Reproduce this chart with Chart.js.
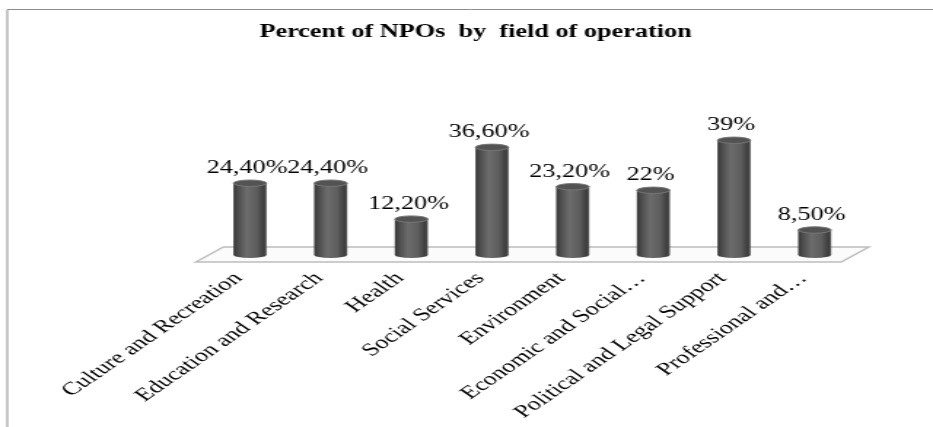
<!DOCTYPE html>
<html>
<head>
<meta charset="utf-8">
<script src="https://cdn.jsdelivr.net/npm/chart.js@4.4.1/dist/chart.umd.min.js"></script>
<style>
  html, body { margin: 0; padding: 0; background: #fff; overflow: hidden; }
</style>
</head>
<body>
<!-- drawn narrow and stretched sideways, like the original picture -->
<canvas id="chart" width="640" height="427" style="width:933px;height:427px"></canvas>
<script>
const categories = [
  'Culture and Recreation',
  'Education and Research',
  'Health',
  'Social Services',
  'Environment',
  'Economic and Social…',
  'Political and Legal Support',
  'Professional and…'
];
const percentValues = [24.4, 24.4, 12.2, 36.6, 23.2, 22, 39, 8.5];
const valueLabels = ['24,40%', '24,40%', '12,20%', '36,60%', '23,20%', '22%', '39%', '8,50%'];

const serif = '"Liberation Serif", "Times New Roman", serif';
const BAR_SHARE = 0.41;

function bodyGradient(ctx, x, width) {
  const g = ctx.createLinearGradient(x - width / 2, 0, x + width / 2, 0);
  g.addColorStop(0, '#353535');
  g.addColorStop(0.12, '#4a4a4a');
  g.addColorStop(0.4, '#6c6c6c');
  g.addColorStop(0.7, '#5e5e5e');
  g.addColorStop(0.92, '#3d3d3d');
  g.addColorStop(1, '#555555');
  return g;
}

const cylinders = {
  id: 'cylinders',
  beforeDraw(chart) {
    const ctx = chart.ctx;
    ctx.save();
    ctx.strokeStyle = '#8c8c8c';
    ctx.lineWidth = 1;
    ctx.beginPath();
    ctx.moveTo(5, chart.height);
    ctx.lineTo(5, 9.5);
    ctx.lineTo(chart.width, 9.5);
    ctx.stroke();
    ctx.restore();
  },
  beforeDatasetsDraw(chart) {
    const ctx = chart.ctx;
    const { left, right } = chart.chartArea;
    const y0 = chart.scales.y.getPixelForValue(0);
    ctx.save();
    ctx.beginPath();
    ctx.moveTo(left - 9.5, y0 + 7);
    ctx.lineTo(left + 9.5, y0 - 8);
    ctx.lineTo(right + 9.5, y0 - 8);
    ctx.lineTo(right - 9.5, y0 + 7);
    ctx.closePath();
    ctx.fillStyle = '#fbfbfb';
    ctx.fill();
    ctx.strokeStyle = '#bdbdbd';
    ctx.lineWidth = 1.5;
    ctx.stroke();
    ctx.restore();
  },
  afterDatasetsDraw(chart) {
    const ctx = chart.ctx;
    const meta = chart.getDatasetMeta(0);
    ctx.save();
    meta.data.forEach((bar, i) => {
      const { x, y, base, width } = bar.getProps(['x', 'y', 'base', 'width'], true);
      const rx = width / 2;
      ctx.fillStyle = bodyGradient(ctx, x, width);
      ctx.beginPath();
      ctx.ellipse(x, base, rx, 3, 0, 0, Math.PI);
      ctx.fill();

      ctx.beginPath();
      ctx.ellipse(x, y, rx, 3.2, 0, 0, Math.PI * 2);
      ctx.fillStyle = '#535353';
      ctx.fill();
      ctx.strokeStyle = '#777777';
      ctx.lineWidth = 1;
      ctx.stroke();

      ctx.fillStyle = '#000';
      ctx.font = '18px ' + serif;
      ctx.textAlign = 'center';
      ctx.textBaseline = 'alphabetic';
      ctx.fillText(valueLabels[i], x - 2, y - 10);
    });
    ctx.restore();
  }
};

new Chart(document.getElementById('chart'), {
  type: 'bar',
  data: {
    labels: categories,
    datasets: [{
      data: percentValues,
      barPercentage: BAR_SHARE,
      categoryPercentage: 1,
      borderWidth: 0,
      backgroundColor: (c) => {
        const chart = c.chart;
        if (!chart.chartArea || c.dataIndex === undefined) return '#555';
        const xScale = chart.scales.x;
        const x = xScale.getPixelForValue(c.dataIndex);
        const w = xScale.width / categories.length * BAR_SHARE;
        return bodyGradient(chart.ctx, x, w);
      }
    }]
  },
  options: {
    responsive: false,
    devicePixelRatio: 1,
    animation: false,
    layout: { padding: { left: 66, right: 53.5, top: 0, bottom: 0 } },
    plugins: {
      legend: { display: false },
      tooltip: { enabled: false },
      title: {
        display: true,
        text: 'Percent of NPOs  by  field of operation',
        color: '#000',
        font: { family: serif, size: 18, weight: 'bold' },
        padding: { top: 22, bottom: 79 }
      }
    },
    scales: {
      x: {
        grid: { display: false, drawTicks: false },
        border: { display: false },
        ticks: {
          color: '#000',
          font: { family: serif, size: 18 },
          minRotation: 45,
          maxRotation: 45,
          autoSkip: false,
          padding: 13,
          labelOffset: -8
        },
        afterFit(axis) { axis.height = 172; }
      },
      y: {
        min: 0,
        max: 45,
        grid: { display: false, drawTicks: false },
        border: { display: false },
        ticks: { display: false },
        afterFit(axis) { axis.width = 77.8; }
      }
    }
  },
  plugins: [cylinders]
});
</script>
</body>
</html>
